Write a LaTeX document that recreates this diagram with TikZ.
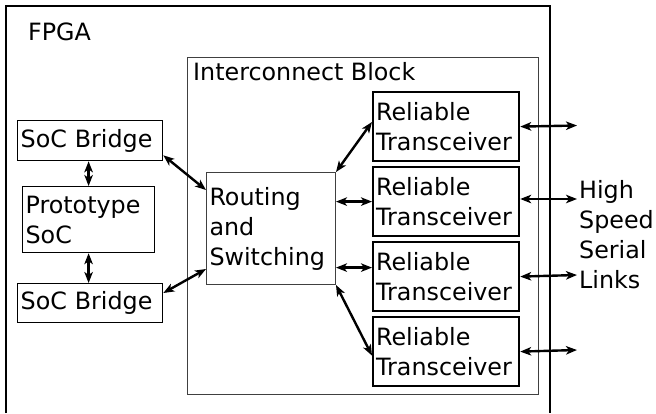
\documentclass[tikz,border=0pt]{standalone}
\usepackage{fontspec}
\setmainfont{DejaVu Sans}
\usetikzlibrary{arrows.meta}
\begin{document}
\begin{tikzpicture}[x=1pt,y=-1pt,
  every node/.style={font=\fontsize{23.8}{30}\selectfont},
  lbl/.style={inner sep=0pt, align=left},
  blk/.style={draw, rectangle, anchor=north west, inner xsep=3pt, inner ysep=0pt, align=left, line width=1.3pt},
  trx/.style={blk, line width=2.2pt, text width=140pt, minimum height=69pt},
  thin/.style={blk, line width=1pt, draw=black!75},
  tip/.tip={Stealth[length=11pt,width=8.5pt,inset=3pt]},
  arr/.style={tip-tip, line width=2.4pt}]
\useasboundingbox (0,0) rectangle (656,413);
% FPGA outline (open at the bottom)
\draw[line width=2pt] (6,413) -- (6,6) -- (550,6) -- (550,413);
\node[lbl, anchor=base west] (fpga) at (28,40) {FPGA};
% Interconnect block
\node[draw, rectangle, line width=1pt, draw=black!75, anchor=north west, minimum width=351pt, minimum height=337pt, inner sep=0pt] (ib) at (187,57) {};
\node[lbl, anchor=base west] (ibl) at (193,80) {Interconnect Block};
% left side
\node[blk, text width=139pt, minimum height=40pt] (b1) at (17,120) {SoC Bridge};
\node[blk, line width=1.2pt, text width=126pt, minimum height=66pt] (proto) at (22,186) {Prototype\\SoC};
\node[blk, text width=139pt, minimum height=39pt] (b2) at (17,283) {SoC Bridge};
% routing
\node[thin, text width=123pt, minimum height=112pt] (rs) at (206,172) {Routing\\and\\Switching};
% transceivers
\node[trx] (t1) at (372,91) {Reliable\\Transceiver};
\node[trx] (t2) at (372,166) {Reliable\\Transceiver};
\node[trx] (t3) at (372,241) {Reliable\\Transceiver};
\node[trx] (t4) at (372,316) {Reliable\\Transceiver};
% links label
\node[lbl, anchor=west] (hssl) at (579,235) {High\\Speed\\Serial\\Links};
% free ends
\coordinate (e1) at (577,125.5);
\coordinate (e2) at (577,199);
\coordinate (e3) at (577,275);
\coordinate (e4) at (577,350);
\coordinate (t3in) at ([yshift=9pt]t3.west);
% connectors
\draw[arr] (proto.north |- b1.south) -- (proto.north);
\draw[arr] (proto.south) -- (proto.south |- b2.north);
\draw[arr] ([yshift=6pt]b1.south east) -- ([yshift=-18pt]rs.north west);
\draw[arr] ([yshift=-10pt]b2.north east) -- ([yshift=16pt]rs.south west);
\draw[arr] (rs.north east) -- ([yshift=-31pt]t1.north west);
\draw[arr] (rs.east |- t2.west) -- (t2.west);
\draw[arr] (rs.east |- t3in) -- (t3in);
\draw[arr] (rs.south east) -- ([yshift=-4pt]t4.west);
\draw[arr] (t1.east) -- (e1);
\draw[arr] (t2.east |- e2) -- (e2);
\draw[arr] (t3.east) -- (e3);
\draw[arr] (t4.east) -- (e4);
\end{tikzpicture}
\end{document}
